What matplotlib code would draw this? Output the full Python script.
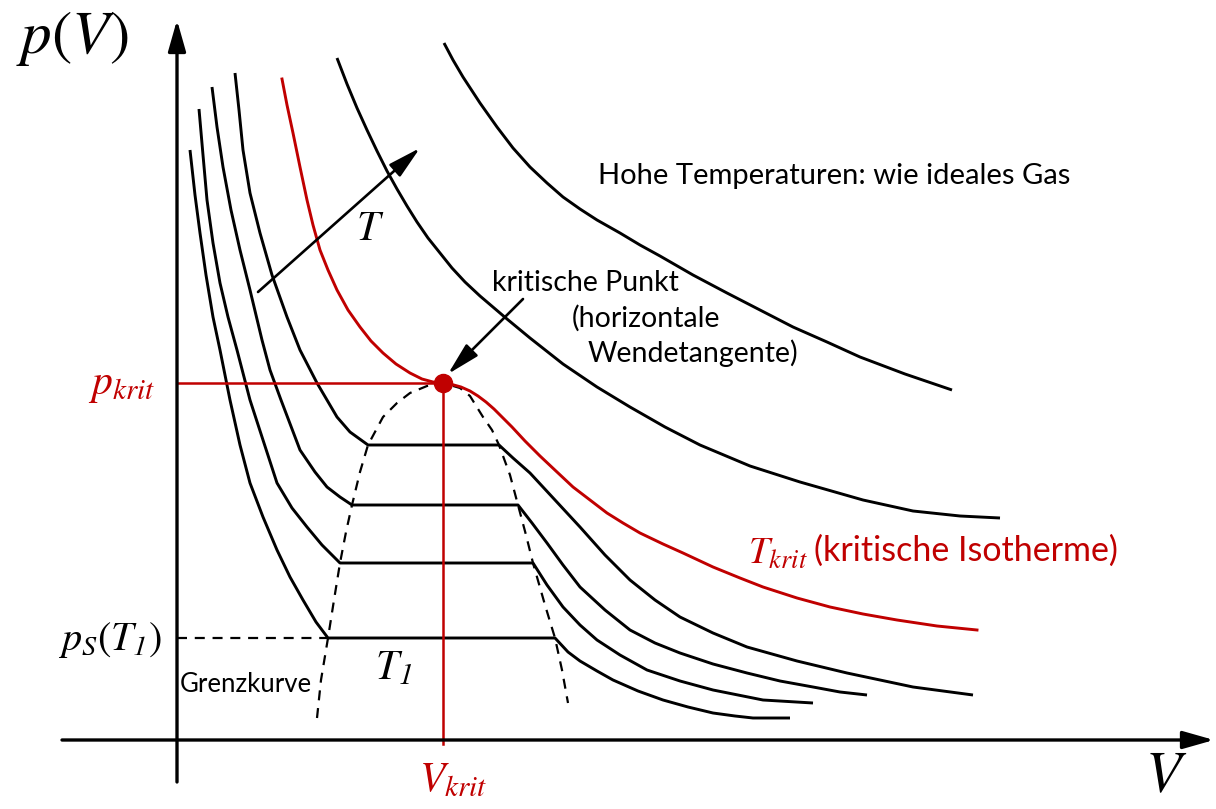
import matplotlib
matplotlib.use("Agg")
import matplotlib.pyplot as plt

plt.rcParams["mathtext.fontset"] = "custom"
plt.rcParams["mathtext.rm"] = "STIXGeneral"
plt.rcParams["mathtext.it"] = "STIXGeneral:italic"
plt.rcParams["mathtext.bf"] = "STIXGeneral:bold"
plt.rcParams["mathtext.sf"] = "STIXGeneral:italic"  # fuer die kursive 1 im Index
plt.rcParams["font.family"] = ["Lato", "DejaVu Sans"]

RED = "#C00000"

# Isothermen (Bildkoordinaten: V nach rechts, p nach unten)
iso1_v = [190, 195, 200, 206, 213, 220, 230, 240, 250, 263, 277, 290, 303, 316, 328,
          555, 568, 580, 597, 613, 638, 663, 688, 713, 735, 753, 790]
iso1_p = [150, 195, 233, 275, 317, 350, 400, 445, 483, 517, 550, 577, 600, 622, 638,
          638, 652, 661, 671, 680, 691, 700, 707, 713, 716, 718, 718]

iso2_v = [199, 203, 207, 213, 220, 228, 237, 250, 263, 277, 292, 307, 322, 340,
          533, 547, 563, 580, 597, 620, 647, 680, 713, 763, 813]
iso2_p = [109, 155, 200, 243, 283, 317, 350, 400, 440, 483, 508, 527, 545, 563,
          563, 585, 607, 625, 640, 655, 670, 681, 690, 700, 703]

iso3_v = [212, 217, 223, 231, 240, 250, 262, 270, 281, 300, 315, 327, 340, 352,
          518, 532, 547, 563, 580, 605, 630, 655, 680, 713, 747, 780, 813, 840, 867]
iso3_p = [87, 127, 167, 210, 250, 290, 340, 370, 400, 450, 472, 487, 497, 505,
          505, 523, 543, 565, 587, 610, 630, 643, 653, 664, 673, 681, 687, 692, 695]

iso4_v = [235, 239, 243, 250, 260, 272, 287, 300, 317, 337, 350, 368,
          499, 513, 530, 555, 580, 605, 630, 655, 680, 713, 747, 797, 847, 913, 973]
iso4_p = [73, 110, 150, 193, 233, 275, 317, 350, 383, 417, 432, 445,
          445, 458, 473, 500, 527, 555, 580, 600, 617, 633, 647, 661, 673, 687, 695]

krit_v = [282, 287, 293, 300, 307, 313, 320, 328, 337, 348, 360, 371, 383, 396, 410,
          422, 433, 443, 452, 461, 470, 478, 486, 494, 502, 512, 525, 540, 557, 573,
          590, 607, 623, 640, 663, 683, 713, 740, 763, 797, 830, 863, 897, 937, 977]
krit_p = [79, 105, 133, 167, 200, 225, 250, 270, 290, 310, 327, 341, 353, 364, 373,
          379, 382, 383, 384.5, 387, 391, 396, 402, 409, 417, 427, 441, 456, 472, 487,
          500, 513, 523, 533, 544, 553, 567, 578, 587, 598, 607, 614, 620, 626, 630]

iso5_v = [337, 347, 357, 367, 377, 387, 397, 407, 417, 428, 440, 452, 465, 480, 507,
          530, 563, 597, 630, 665, 700, 750, 800, 863, 913, 960, 1000]
iso5_p = [58, 84, 108, 130, 151, 171, 189, 206, 222, 238, 253, 268, 282, 296, 319,
          338, 364, 387, 407, 427, 445, 466, 482, 500, 511, 516, 518]

iso6_v = [444, 453, 463, 480, 497, 513, 530, 547, 563, 580, 597, 620, 640, 660, 693,
          727, 760, 793, 827, 860, 905, 952]
iso6_p = [43, 60, 77, 103, 127, 148, 167, 183, 197, 209, 220, 233, 245, 256, 275,
          293, 310, 327, 342, 357, 374, 390]

# Grenzkurve (gestrichelt)
grenz_v = [317, 321, 328, 334, 340, 346, 352, 360, 368, 383, 397, 410, 427, 443,
           460, 470, 483, 492, 499, 510, 518, 526, 533, 545, 555, 562, 568]
grenz_p = [718, 680, 638, 600, 563, 532, 505, 472, 445, 417, 403, 393, 386, 383,
           388, 396, 417, 430, 445, 475, 505, 535, 563, 605, 638, 670, 703]

v_krit, p_krit = 443, 383
p_s1 = 638
v_s1 = 328

fig = plt.figure(figsize=(12.16, 8.09), dpi=100)
ax = fig.add_axes([0, 0, 1, 1])
ax.set_xlim(0, 1216)
ax.set_ylim(809, 0)
ax.axis("off")

head = "-|>,head_length=0.95,head_width=0.27"

# Achsen mit Pfeilen
ax.annotate("", xy=(177, 20), xytext=(177, 782),
            arrowprops=dict(arrowstyle=head, mutation_scale=20, lw=2.4,
                            color="black", shrinkA=0, shrinkB=0))
ax.annotate("", xy=(1214, 740), xytext=(62, 740),
            arrowprops=dict(arrowstyle=head, mutation_scale=20, lw=2.4,
                            color="black", shrinkA=0, shrinkB=0))

lw = 2.1
ax.plot(grenz_v, grenz_p, color="black", lw=1.6, ls=(0, (4.5, 3.5)))
ax.plot([177, v_s1], [p_s1, p_s1], color="black", lw=1.6, ls=(0, (4.5, 3.5)))

for v, p in [(iso1_v, iso1_p), (iso2_v, iso2_p), (iso3_v, iso3_p),
             (iso4_v, iso4_p), (iso5_v, iso5_p), (iso6_v, iso6_p)]:
    ax.plot(v, p, color="black", lw=lw, solid_joinstyle="round", solid_capstyle="butt")

ax.plot([177, v_krit], [p_krit, p_krit], color=RED, lw=1.8)
ax.plot([v_krit, v_krit], [p_krit, 744], color=RED, lw=1.8)
ax.plot(krit_v, krit_p, color=RED, lw=lw, solid_joinstyle="round")
ax.plot([v_krit], [p_krit], "o", color=RED, ms=13)

# Pfeil "T steigt"
ax.annotate("", xy=(420, 148), xytext=(258, 292),
            arrowprops=dict(arrowstyle="-|>,head_length=1.0,head_width=0.25",
                            mutation_scale=20, lw=1.9, color="black",
                            shrinkA=0, shrinkB=0))
# Pfeil kritischer Punkt
ax.annotate("", xy=(448, 374), xytext=(523, 299),
            arrowprops=dict(arrowstyle="-|>,head_length=1.0,head_width=0.25",
                            mutation_scale=20, lw=1.9, color="black",
                            shrinkA=0, shrinkB=0))

# Beschriftungen
ax.text(72, 38, r"$p(V)$", fontsize=44, ha="center", va="center")
ax.text(1166, 776, r"$V$", fontsize=42, ha="center", va="center")
ax.text(155, 386, r"$p_{krit}$", fontsize=30, color=RED, ha="right", va="center")
ax.text(162, 640, r"$p_S(T_{\mathsf{1}})$", fontsize=29, ha="right", va="center")
ax.text(453, 780, r"$V_{krit}$", fontsize=30, color=RED, ha="center", va="center")
ax.text(370, 228, r"$T$", fontsize=30, ha="center", va="center")
ax.text(394, 668, r"$T_{\mathsf{1}}$", fontsize=30, ha="center", va="center")
ax.text(748, 553, r"$T_{krit}$", fontsize=27, color=RED, ha="left", va="center")

ax.text(180, 685, "Grenzkurve", fontsize=18.5, ha="left", va="center")
ax.text(598, 176, "Hohe Temperaturen: wie ideales Gas", fontsize=21, ha="left", va="center")
ax.text(492, 283, "kritische Punkt", fontsize=20.5, ha="left", va="center")
ax.text(572, 318, "(horizontale", fontsize=20.5, ha="left", va="center")
ax.text(588, 353, "Wendetangente)", fontsize=20.5, ha="left", va="center")
ax.text(814, 551, "(kritische Isotherme)", fontsize=24.5, color=RED,
        ha="left", va="center")

fig.savefig("out.png", dpi=100)
